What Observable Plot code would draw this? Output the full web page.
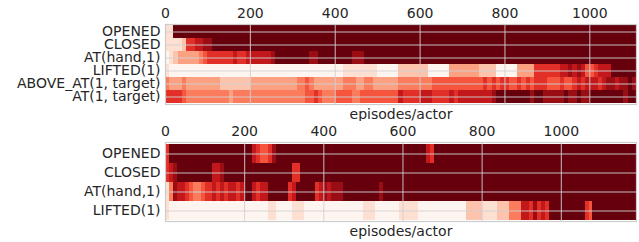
<!DOCTYPE html>
<html><head><meta charset="utf-8">
<script src="https://cdn.jsdelivr.net/npm/d3@7"></script>
<script src="https://cdn.jsdelivr.net/npm/@observablehq/plot@0.6"></script>
<style>
body{margin:0;background:#fff;}
#chart svg{display:block;}
</style></head><body><div id="chart"></div>
<script>
// ---- data ----
// each string = one row; each digit = intensity (0..9) of one 10-episode column
const binWidth = 10;
const xLabel = "episodes/actor";

const topRows = ["OPENED", "CLOSED", "AT(hand,1)", "LIFTED(1)", "ABOVE_AT(1, target)", "AT(1, target)"];
const topTicks = [0, 200, 400, 600, 800, 1000];
const topMax = 1110;
const topValues = [
  "1199999999 9999999999 9999999999 9999999999 9999999999 9999999999 9999999999 9999999999 9999999999 9999999999 9999999999 9",
  "1111266778 8999999999 9999999999 9999999999 9999999999 9999999999 9999999999 9999999999 9999999999 9999999999 9999999999 9",
  "0123333345 6666667667 7777789999 9999889999 9999888999 9999999999 9999999999 9999999999 9999999999 9999999999 9999999999 9",
  "1000000000 0000000000 0000000000 0000000000 0011111111 0000022222 2200000333 3333222200 0003333666 6667787875 5677799999 9",
  "4333433333 3332222222 3333333333 3445433333 3344433443 3333344444 4445555555 5555565656 6556565666 5556556767 7767887889 8",
  "6666544444 4444434444 4444444444 4445565444 5555445555 5555576666 7776666767 7777777899 9999998998 8888988988 9999999989 9"
];

const bottomRows = ["OPENED", "CLOSED", "AT(hand,1)", "LIFTED(1)"];
const bottomTicks = [0, 200, 400, 600, 800, 1000];
const bottomMax = 1190;
const bottomValues = [
  "6999999999 9999999999 9976556899 9999999999 9999999999 9999999999 9999997699 9999999999 9999999999 9999999999 9999999999 999999999",
  "6789999999 9977899999 9999999999 9966999999 9999999999 9999999999 9999999999 9999999999 9999999999 9999999999 9999999999 999999999",
  "1487765445 6676767767 9976779999 9679999967 8788899999 9999899999 9999999999 9999999999 9999999999 9999999999 9999999999 999999999",
  "1000000000 0000000000 0000001100 0011100000 0000000000 1110000001 1111000000 0000002222 1111222444 7768676999 9999996599 999999999"
];

// ---- build ----
function toCells(rows, values) {
  const cells = [];
  rows.forEach((row, r) => {
    const s = values[r].replace(/\s+/g, "");
    for (let i = 0; i < s.length; i++) {
      cells.push({row, x1: i * binWidth, x2: (i + 1) * binWidth, v: +s[i]});
    }
  });
  return cells;
}

function panel(rows, values, ticks, xmax, opts) {
  const cells = toCells(rows, values);
  return Plot.plot({
    width: 639,
    height: opts.height,
    marginLeft: 165,
    marginRight: 3,
    marginTop: opts.mt,
    marginBottom: opts.mb,
    style: {fontFamily: "DejaVu Sans", fontSize: "14px", color: "#262626", background: "white"},
    x: {domain: [0, xmax], axis: null},
    y: {domain: rows, padding: 0, axis: null},
    color: {type: "linear", scheme: "reds", domain: [0, 9]},
    marks: [
      Plot.barX(cells, {x1: "x1", x2: "x2", y: "row", fill: "v", inset: 0, shapeRendering: "crispEdges"}),
      Plot.gridX({ticks, stroke: "#d0d0d0", strokeOpacity: 0.9, strokeWidth: 1}),
      Plot.gridY({stroke: "#d0d0d0", strokeOpacity: 0.9, strokeWidth: 1}),
      Plot.frame({stroke: "#cccccc", strokeWidth: 1.2}),
      Plot.axisX({anchor: "top", ticks, tickFormat: d => String(d), tickSize: 0, tickPadding: opts.pad, label: null}),
      Plot.axisY({tickSize: 0, tickPadding: 5, label: null}),
      Plot.text([xLabel], {text: d => d, frameAnchor: "bottom", lineAnchor: "bottom", dy: 14})
    ]
  });
}

const root = document.getElementById("chart");
root.appendChild(panel(topRows, topValues, topTicks, topMax, {height: 121, mt: 24, mb: 17, pad: 6.5}));
root.appendChild(panel(bottomRows, bottomValues, bottomTicks, bottomMax, {height: 121, mt: 21, mb: 21, pad: 7}));
</script>
</body></html>
